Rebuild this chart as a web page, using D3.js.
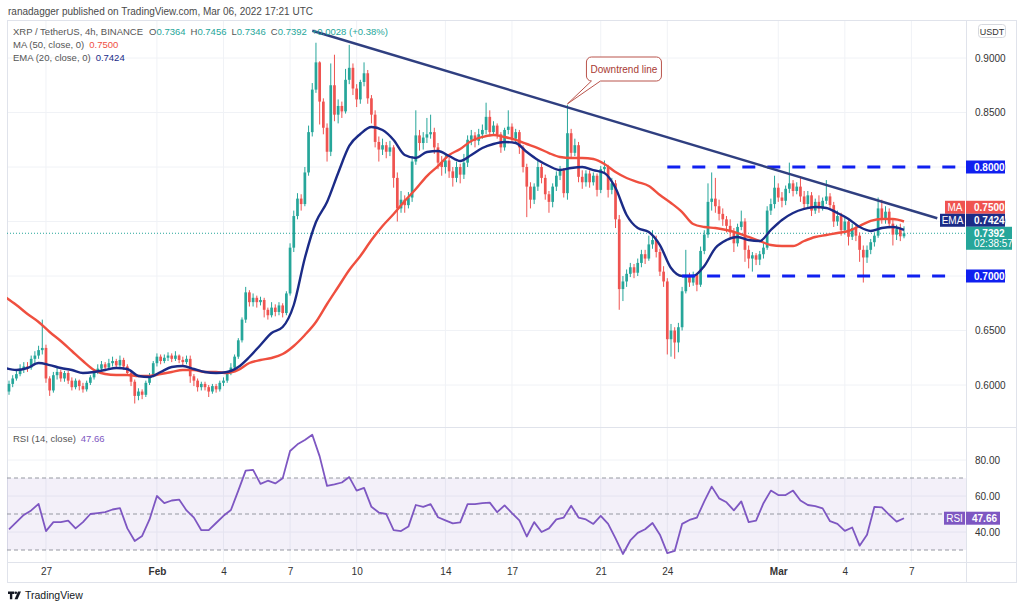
<!DOCTYPE html>
<html>
<head>
<meta charset="utf-8">
<script src="https://cdn.jsdelivr.net/npm/d3@7"></script>
<style>
  body { margin: 0; background: #fff; }
  svg { display: block; font-family: "Liberation Sans", Arial, sans-serif; }
</style>
</head>
<body>
<svg id="chart" width="1024" height="609"></svg>
<script>
// ── Data (XRP/USDT 4h, Binance) ───────────────────────────────────────────────
const H4 = 4 * 3600e3;
const firstCandle = Date.UTC(2022, 0, 25, 8); // Jan 25 08:00 UTC, one candle every 4h
const firstOpen = 0.594;

// one row per day (6 candles), first row Jan 25 08:00-20:00, last row Mar 6
const closes = [
  .601, .606, .610, .615,
  .617, .616, .624, .627, .632, .634,
  .606, .595, .609, .612, .606, .611,
  .604, .598, .604, .599, .596, .602,
  .607, .612, .615, .619, .616, .620,
  .622, .618, .623, .617, .611, .603,
  .590, .594, .591, .602, .609, .620,
  .626, .622, .625, .627, .624, .627,
  .623, .621, .624, .608, .604, .598,
  .601, .598, .594, .599, .596, .602,
  .604, .611, .616, .626, .641, .660,
  .685, .676, .680, .676, .678, .669,
  .664, .671, .667, .673, .666, .684,
  .726, .755, .771, .766, .795, .832,
  .871, .896, .860, .836, .814, .875,
  .848, .856, .851, .880, .891, .872,
  .862, .878, .886, .863, .848, .823,
  .816, .820, .814, .818, .790, .762,
  .770, .765, .772, .805, .829, .822,
  .827, .830, .832, .818, .804, .800,
  .806, .796, .790, .800, .793, .804,
  .825, .829, .824, .830, .834, .846,
  .832, .838, .830, .818, .834, .837,
  .826, .832, .818, .800, .782, .770,
  .782, .800, .790, .775, .768, .782,
  .792, .797, .776, .831, .813, .820,
  .791, .786, .794, .786, .792, .779,
  .798, .800, .779, .785, .752, .688,
  .695, .702, .708, .703, .712, .720,
  .716, .729, .733, .722, .704, .695,
  .642, .650, .639, .653, .686, .699,
  .694, .701, .692, .723, .738, .768,
  .771, .764, .757, .752, .746, .740,
  .730, .745, .750, .724, .716, .719,
  .715, .720, .726, .760, .766, .781,
  .772, .769, .780, .785, .778, .782,
  .773, .766, .774, .760, .768, .762,
  .769, .773, .765, .750, .755, .742,
  .750, .736, .744, .737, .724, .717,
  .724, .731, .737, .762, .752, .759,
  .748, .738, .743, .7364, .7392
];
const highs = [
  .604, .609, .613, .619,
  .621, .621, .627, .631, .636, .660,
  .637, .608, .612, .616, .614, .613,
  .613, .607, .606, .605, .602, .604,
  .609, .614, .619, .622, .621, .624,
  .626, .624, .627, .625, .619, .612,
  .605, .597, .596, .604, .611, .622,
  .629, .628, .628, .630, .629, .631,
  .628, .626, .627, .627, .610, .606,
  .603, .603, .600, .601, .601, .604,
  .607, .613, .620, .628, .643, .662,
  .690, .687, .684, .682, .681, .680,
  .671, .676, .674, .676, .675, .686,
  .730, .760, .776, .775, .800, .838,
  .877, .914, .897, .863, .840, .895,
  .903, .862, .860, .890, .912, .895,
  .876, .880, .896, .889, .866, .852,
  .828, .826, .823, .824, .820, .795,
  .778, .774, .777, .810, .852, .834,
  .832, .845, .848, .836, .822, .810,
  .812, .809, .800, .805, .803, .812,
  .829, .834, .832, .835, .839, .859,
  .852, .842, .840, .832, .836, .852,
  .840, .835, .834, .820, .803, .786,
  .785, .806, .803, .793, .778, .785,
  .796, .801, .799, .857, .835, .826,
  .823, .797, .797, .797, .795, .794,
  .801, .806, .802, .790, .788, .756,
  .700, .706, .712, .711, .716, .724,
  .724, .737, .742, .737, .725, .709,
  .698, .656, .653, .657, .690, .724,
  .703, .704, .703, .727, .742, .785,
  .795, .790, .770, .762, .755, .752,
  .744, .748, .760, .753, .728, .722,
  .721, .723, .730, .764, .771, .792,
  .785, .777, .783, .804, .788, .786,
  .790, .778, .778, .777, .771, .774,
  .772, .788, .776, .768, .760, .758,
  .754, .753, .748, .748, .740, .728,
  .728, .734, .740, .772, .770, .764,
  .762, .752, .747, .748, .7456
];
const lows = [
  .591, .598, .604, .608,
  .611, .612, .614, .620, .624, .628,
  .602, .590, .593, .605, .603, .603,
  .601, .595, .596, .595, .593, .594,
  .600, .605, .610, .613, .613, .614,
  .617, .615, .616, .614, .609, .599,
  .583, .586, .587, .589, .600, .607,
  .617, .619, .620, .622, .621, .622,
  .620, .617, .619, .602, .599, .594,
  .595, .595, .589, .592, .593, .594,
  .599, .602, .609, .614, .624, .639,
  .657, .672, .672, .671, .673, .662,
  .660, .662, .663, .664, .662, .664,
  .682, .722, .752, .760, .764, .792,
  .828, .868, .839, .830, .805, .810,
  .842, .840, .845, .849, .876, .866,
  .855, .858, .874, .858, .840, .818,
  .805, .811, .808, .810, .781, .750,
  .758, .758, .762, .768, .802, .815,
  .816, .822, .826, .812, .798, .792,
  .794, .790, .782, .786, .785, .789,
  .800, .820, .818, .820, .826, .830,
  .828, .829, .826, .813, .815, .830,
  .822, .822, .812, .795, .754, .762,
  .766, .778, .785, .770, .758, .763,
  .778, .788, .772, .770, .808, .810,
  .786, .780, .782, .781, .783, .773,
  .776, .794, .772, .775, .744, .669,
  .677, .690, .699, .698, .700, .708,
  .711, .714, .725, .717, .700, .690,
  .628, .626, .624, .630, .650, .684,
  .690, .691, .686, .690, .720, .735,
  .760, .758, .751, .746, .740, .734,
  .722, .727, .742, .713, .707, .704,
  .710, .710, .716, .724, .756, .762,
  .768, .763, .765, .776, .773, .775,
  .768, .761, .763, .755, .757, .758,
  .760, .766, .762, .745, .746, .737,
  .738, .728, .733, .732, .713, .694,
  .712, .720, .727, .735, .748, .748,
  .744, .728, .733, .732, .7346
];

// MA(50) and EMA(20), read every 12h starting Jan 25 04:00
const lineStart = Date.UTC(2022, 0, 25, 4);
const lineStep = 12 * 3600e3;
const maValues = [
  .6807, .6734, .6651, .6578, .6486, .6404, .6312, .6220, .6138, .6101,
  .6092, .6092, .6083, .6083, .6101, .6119, .6138, .6138, .6119, .6119,
  .6110, .6138, .6202, .6229, .6248, .6284, .6358, .6459, .6578, .6743,
  .6899, .7055, .7183, .7330, .7459, .7569, .7688, .7798, .7917, .8009,
  .8110, .8165, .8239, .8275, .8294, .8275, .8248, .8211, .8174, .8128,
  .8092, .8083, .8083, .8073, .8028, .7954, .7899, .7862, .7826, .7743,
  .7670, .7587, .7477, .7450, .7440, .7422, .7394, .7358, .7321, .7284,
  .7275, .7275, .7321, .7358, .7376, .7394, .7413, .7459, .7505, .7523,
  .7523, .7500
];
const emaValues = [
  .6156, .6138, .6156, .6202, .6183, .6156, .6138, .6110, .6119, .6138,
  .6156, .6147, .6083, .6073, .6119, .6165, .6174, .6147, .6119, .6110,
  .6119, .6165, .6257, .6367, .6477, .6532, .6734, .7165, .7495, .7679,
  .7945, .8193, .8303, .8367, .8339, .8248, .8110, .8083, .8138, .8147,
  .8101, .8055, .8110, .8174, .8211, .8229, .8220, .8138, .8064, .8009,
  .7972, .7991, .8000, .7972, .7945, .7807, .7560, .7440, .7404, .7284,
  .7073, .7000, .7000, .7092, .7257, .7330, .7358, .7330, .7321, .7422,
  .7514, .7578, .7615, .7633, .7624, .7578, .7523, .7450, .7413, .7440,
  .7450, .7424
];

// RSI(14), read every 8h starting at the first candle
const rsiStep = 8 * 3600e3;
const rsiValues = [
  41.5, 45.5, 49.5, 52, 55.6, 40.5, 45.5, 45.5, 46.3, 42,
  45.5, 50, 50.5, 51, 52.5, 53.3, 42, 35, 37.8, 47,
  60, 56, 57.5, 58, 52, 48, 41, 41, 45, 49,
  52.2, 63, 74.1, 74.5, 66.7, 68.5, 67, 69.8, 85, 88.7,
  91.1, 94, 82, 65.6, 66.5, 67.5, 70.5, 63, 64.5, 54,
  50.8, 50, 41, 40.5, 43, 55, 54, 55.5, 48.2, 46.5,
  44.8, 45.3, 55.5, 55.5, 56, 56.3, 51, 54.8, 50.5, 46.5,
  37.5, 45.5, 40, 42, 47, 48, 54.6, 48, 47, 44.5,
  49, 44.5, 36.5, 27.8, 35.3, 39.5, 41.5, 45, 38.5, 28.3,
  29.5, 44.5, 46.7, 48, 57, 65.2, 58.7, 56.5, 52, 57,
  45.5, 46.3, 56, 63, 60.5, 60.5, 63, 57.5, 55, 54.4,
  53.1, 46, 44.5, 40.6, 42.5, 32.4, 38.5, 54, 53.7, 49.5,
  45.8, 47.66
];

const priceTicks = [0.60, 0.65, 0.70, 0.75, 0.80, 0.85, 0.90];
const rsiTicks = [40, 60, 80];
const rsiLevels = [70, 50, 30];
const dayTickDates = ["2022-01-27", "2022-02-01", "2022-02-04", "2022-02-07", "2022-02-10",
  "2022-02-14", "2022-02-17", "2022-02-21", "2022-02-24", "2022-03-01", "2022-03-04", "2022-03-07"];
const dayTickLabels = ["27", "Feb", "4", "7", "10", "14", "17", "21", "24", "Mar", "4", "7"];

// horizontal levels drawn on the chart: [price, from, to]
const levels = [
  [0.80, "2022-02-24T00:00Z", "2022-03-09T00:00Z"],
  [0.70, "2022-02-24T16:00Z", "2022-03-09T00:00Z"],
];
const trendline = [["2022-02-08T00:00Z", 0.925], ["2022-03-08T04:00Z", 0.753]];
const calloutCandle = 151; // Feb 19 12:00 wick touching the trendline

// ── Colors ───────────────────────────────────────────────────────────────────
const UP = "#26a69a", DOWN = "#ef5350";
const MA_COLOR = "#ef4f3f", EMA_COLOR = "#1b2b87", TREND_COLOR = "#2f3f80";
const LEVEL_COLOR = "#1020f0", RSI_COLOR = "#7e57c2";
const GRID = "#f0f2f6", BORDER = "#e0e3eb", TEXT = "#333";

// ── Build candles ────────────────────────────────────────────────────────────
const candles = closes.map((c, i) => {
  const o = i === 0 ? firstOpen : closes[i - 1];
  return {
    date: new Date(firstCandle + i * H4),
    open: o, close: c,
    high: Math.max(highs[i], o, c),
    low: Math.min(lows[i], o, c),
  };
});
const maSeries = maValues.map((v, i) => ({ date: new Date(lineStart + i * lineStep), v }));
const emaSeries = emaValues.map((v, i) => ({ date: new Date(lineStart + i * lineStep), v }));
const rsiSeries = rsiValues.map((v, i) => ({ date: new Date(firstCandle + i * rsiStep), v }));

// ── Layout ───────────────────────────────────────────────────────────────────
const L = 7, R = 966, AXR = 1016;
const TOP = 21, SPLIT = 427, RSI_B = 562, BOTTOM = 583;

const x = d3.scaleUtc()
  .domain([candles[0].date, candles[candles.length - 1].date])
  .range([9, 904]);
const y = d3.scaleLinear().domain([0.6, 0.9]).range([385, 58]);
const ry = d3.scaleLinear().domain([40, 80]).range([532, 460]);

const svg = d3.select("#chart");
const defs = svg.append("defs");
defs.append("clipPath").attr("id", "clip-price")
  .append("rect").attr("x", L).attr("y", TOP).attr("width", R - L).attr("height", SPLIT - TOP);
defs.append("clipPath").attr("id", "clip-rsi")
  .append("rect").attr("x", L).attr("y", SPLIT).attr("width", R - L).attr("height", RSI_B - SPLIT);

// header
svg.append("text").attr("x", 8).attr("y", 14.5)
  .attr("font-size", 10).attr("fill", "#4a4a4a")
  .text("ranadagger published on TradingView.com, Mar 06, 2022 17:21 UTC");

// ── Grid ─────────────────────────────────────────────────────────────────────
const grid = svg.append("g");
grid.selectAll(".vg").data(dayTickDates).join("line")
  .attr("x1", (d) => x(new Date(d))).attr("x2", (d) => x(new Date(d)))
  .attr("y1", TOP).attr("y2", RSI_B)
  .attr("stroke", GRID);
grid.selectAll(".hg").data(priceTicks).join("line")
  .attr("x1", L).attr("x2", R).attr("y1", (d) => y(d)).attr("y2", (d) => y(d))
  .attr("stroke", GRID);
grid.selectAll(".rg").data(rsiTicks).join("line")
  .attr("x1", L).attr("x2", R).attr("y1", (d) => ry(d)).attr("y2", (d) => ry(d))
  .attr("stroke", GRID);

// frame
svg.append("rect").attr("x", L + 0.5).attr("y", TOP - 0.5)
  .attr("width", AXR - L).attr("height", BOTTOM - TOP)
  .attr("fill", "none").attr("stroke", BORDER);
svg.append("line").attr("x1", R + 0.5).attr("x2", R + 0.5).attr("y1", TOP).attr("y2", BOTTOM)
  .attr("stroke", BORDER);
svg.append("line").attr("x1", L).attr("x2", AXR).attr("y1", SPLIT + 0.5).attr("y2", SPLIT + 0.5)
  .attr("stroke", BORDER);
svg.append("line").attr("x1", L).attr("x2", AXR).attr("y1", RSI_B + 0.5).attr("y2", RSI_B + 0.5)
  .attr("stroke", BORDER);

// ── Price pane ───────────────────────────────────────────────────────────────
const pricePane = svg.append("g").attr("clip-path", "url(#clip-price)");
const last = candles[candles.length - 1];

pricePane.append("line")
  .attr("x1", L).attr("x2", R).attr("y1", y(last.close)).attr("y2", y(last.close))
  .attr("stroke", UP).attr("stroke-dasharray", "1,2").attr("stroke-width", 1);

const bodyW = 2.7;
const candleG = pricePane.append("g");
candleG.selectAll("line").data(candles).join("line")
  .attr("x1", (d) => x(d.date)).attr("x2", (d) => x(d.date))
  .attr("y1", (d) => y(d.high)).attr("y2", (d) => y(d.low))
  .attr("stroke", (d) => (d.close >= d.open ? UP : DOWN))
  .attr("stroke-width", 1);
candleG.selectAll("rect").data(candles).join("rect")
  .attr("x", (d) => x(d.date) - bodyW / 2)
  .attr("width", bodyW)
  .attr("y", (d) => y(Math.max(d.open, d.close)))
  .attr("height", (d) => Math.max(1, Math.abs(y(d.open) - y(d.close))))
  .attr("fill", (d) => (d.close >= d.open ? UP : DOWN));

const valueLine = d3.line().x((d) => x(d.date)).y((d) => y(d.v)).curve(d3.curveMonotoneX);
pricePane.append("path").datum(maSeries).attr("d", valueLine)
  .attr("fill", "none").attr("stroke", MA_COLOR).attr("stroke-width", 2.4);
pricePane.append("path").datum(emaSeries).attr("d", valueLine)
  .attr("fill", "none").attr("stroke", EMA_COLOR).attr("stroke-width", 2.4);

pricePane.selectAll(".level").data(levels).join("line")
  .attr("x1", (d) => x(new Date(d[1]))).attr("x2", (d) => x(new Date(d[2])))
  .attr("y1", (d) => y(d[0])).attr("y2", (d) => y(d[0]))
  .attr("stroke", LEVEL_COLOR).attr("stroke-width", 3)
  .attr("stroke-dasharray", "13,12");

pricePane.append("line")
  .attr("x1", x(new Date(trendline[0][0]))).attr("y1", y(trendline[0][1]))
  .attr("x2", x(new Date(trendline[1][0]))).attr("y2", y(trendline[1][1]))
  .attr("stroke", TREND_COLOR).attr("stroke-width", 2.4);

// callout
{
  const c = candles[calloutCandle];
  const tx = x(c.date), ty = y(c.high) - 1;
  const bx = tx + 19, by = 57, bw = 75, bh = 24, r = 5;
  const p = d3.path();
  p.moveTo(bx + r, by);
  p.lineTo(bx + bw - r, by);
  p.arcTo(bx + bw, by, bx + bw, by + r, r);
  p.lineTo(bx + bw, by + bh - r);
  p.arcTo(bx + bw, by + bh, bx + bw - r, by + bh, r);
  p.lineTo(bx + 14, by + bh);
  p.lineTo(tx, ty);
  p.lineTo(bx + 5, by + bh);
  p.arcTo(bx, by + bh, bx, by + bh - r, r);
  p.lineTo(bx, by + r);
  p.arcTo(bx, by, bx + r, by, r);
  p.closePath();
  pricePane.append("path").attr("d", p.toString())
    .attr("fill", "#fff").attr("stroke", "#b9544c").attr("stroke-width", 1);
  pricePane.append("text").attr("x", bx + bw / 2).attr("y", by + 16)
    .attr("text-anchor", "middle").attr("font-size", 10).attr("fill", "#a83a33")
    .text("Downtrend line");
}

// ── RSI pane ─────────────────────────────────────────────────────────────────
const rsiPane = svg.append("g").attr("clip-path", "url(#clip-rsi)");
rsiPane.append("rect")
  .attr("x", L).attr("width", R - L)
  .attr("y", ry(70)).attr("height", ry(30) - ry(70))
  .attr("fill", RSI_COLOR).attr("fill-opacity", 0.09);
rsiPane.selectAll(".lvl").data(rsiLevels).join("line")
  .attr("x1", L).attr("x2", R).attr("y1", (d) => ry(d)).attr("y2", (d) => ry(d))
  .attr("stroke", "#9598a1").attr("stroke-dasharray", "4,3");
rsiPane.append("path").datum(rsiSeries)
  .attr("d", d3.line().x((d) => x(d.date)).y((d) => ry(d.v)))
  .attr("fill", "none").attr("stroke", RSI_COLOR).attr("stroke-width", 1.8)
  .attr("stroke-linejoin", "round");

// ── Axes ─────────────────────────────────────────────────────────────────────
const priceAxis = svg.append("g").attr("transform", `translate(${R},0)`)
  .call(d3.axisRight(y).tickValues(priceTicks).tickFormat(d3.format(".4f")).tickSize(0).tickPadding(9));
const rsiAxis = svg.append("g").attr("transform", `translate(${R},0)`)
  .call(d3.axisRight(ry).tickValues(rsiTicks).tickFormat(d3.format(".2f")).tickSize(0).tickPadding(9));
const timeAxis = svg.append("g").attr("transform", `translate(0,${RSI_B})`)
  .call(d3.axisBottom(x).tickValues(dayTickDates.map((d) => new Date(d)))
    .tickFormat((d, i) => dayTickLabels[i]).tickSize(0).tickPadding(6));
[priceAxis, rsiAxis, timeAxis].forEach((g) => {
  g.select(".domain").remove();
  g.selectAll("text").attr("font-size", 10).attr("fill", TEXT)
    .attr("font-family", '"Liberation Sans", Arial, sans-serif');
});
timeAxis.selectAll("text")
  .attr("font-weight", (d, i) => (isNaN(+dayTickLabels[i]) ? "bold" : null));

// USDT badge
svg.append("rect").attr("x", 978.5).attr("y", 24.5).attr("width", 27).attr("height", 13).attr("rx", 3)
  .attr("fill", "#fff").attr("stroke", "#d6d8de");
svg.append("text").attr("x", 992).attr("y", 34.5).attr("text-anchor", "middle")
  .attr("font-size", 9).attr("fill", TEXT).text("USDT");

// ── Axis tags ────────────────────────────────────────────────────────────────
const fmt4 = d3.format(".4f");
function tag(yc, w, fill, label, text) {
  const g = svg.append("g");
  g.append("rect").attr("x", R).attr("y", yc - 6.5).attr("width", w).attr("height", 13).attr("fill", fill);
  g.append("text").attr("x", R + 8).attr("y", yc + 3.6).attr("font-size", 10)
    .attr("font-weight", "bold").attr("fill", "#fff").text(text);
  if (label) {
    const lw = label.length > 2 ? 25 : 20;
    g.append("rect").attr("x", R - lw - 1).attr("y", yc - 6.5).attr("width", lw).attr("height", 13).attr("fill", fill);
    g.append("text").attr("x", R - 1 - lw / 2).attr("y", yc + 3.6).attr("text-anchor", "middle")
      .attr("font-size", 10).attr("fill", "#fff").text(label);
  }
}
levels.forEach((d) => tag(y(d[0]), 39, LEVEL_COLOR, null, fmt4(d[0])));

const maLast = maValues[maValues.length - 1];
const emaLast = emaValues[emaValues.length - 1];
const priceTop = y(last.close) - 6.5;
const emaC = Math.min(y(emaLast), priceTop - 6.5);
const maC = Math.min(y(maLast), emaC - 13);
tag(maC, 39, DOWN, "MA", fmt4(maLast));
tag(emaC, 39, EMA_COLOR, "EMA", fmt4(emaLast));

svg.append("rect").attr("x", R).attr("y", priceTop).attr("width", 46).attr("height", 23).attr("fill", UP);
svg.append("text").attr("x", R + 8).attr("y", priceTop + 10).attr("font-size", 10)
  .attr("font-weight", "bold").attr("fill", "#fff").text(fmt4(last.close));
svg.append("text").attr("x", R + 8).attr("y", priceTop + 20.5).attr("font-size", 10)
  .attr("fill", "#fff").text("02:38:57");

const rsiLast = rsiValues[rsiValues.length - 1];
svg.append("rect").attr("x", R).attr("y", ry(rsiLast) - 6.5).attr("width", 34).attr("height", 13).attr("fill", RSI_COLOR);
svg.append("text").attr("x", R + 6).attr("y", ry(rsiLast) + 3.6).attr("font-size", 10)
  .attr("font-weight", "bold").attr("fill", "#fff").text(d3.format(".2f")(rsiLast));
svg.append("rect").attr("x", R - 22).attr("y", ry(rsiLast) - 6.5).attr("width", 21).attr("height", 13).attr("fill", RSI_COLOR);
svg.append("text").attr("x", R - 11.5).attr("y", ry(rsiLast) + 3.6).attr("text-anchor", "middle")
  .attr("font-size", 10).attr("fill", "#fff").text("RSI");

// ── Legends (flowing text, small gaps between groups) ────────────────────────
const legend = svg.append("g").attr("font-size", 9.5);
function legendLine(yy, parts) {
  const t = legend.append("text").attr("x", 13).attr("y", yy);
  parts.forEach(([gap, str, color]) => t.append("tspan").attr("dx", gap).attr("fill", color).text(str));
}
const GRAY = "#555";
const change = last.close - last.open;
legendLine(35, [
  [0, "XRP / TetherUS, 4h, BINANCE", GRAY],
  [6, "O", GRAY], [0, fmt4(last.open), UP],
  [5, "H", GRAY], [0, fmt4(last.high), UP],
  [5, "L", GRAY], [0, fmt4(last.low), UP],
  [5, "C", GRAY], [0, fmt4(last.close), UP],
  [5, `${change >= 0 ? "+" : ""}${fmt4(change)} (${change >= 0 ? "+" : ""}${(change / last.open * 100).toFixed(2)}%)`, UP],
]);
legendLine(48, [[0, "MA (50, close, 0)", GRAY], [5, fmt4(maLast), MA_COLOR]]);
legendLine(61, [[0, "EMA (20, close, 0)", GRAY], [5, fmt4(emaLast), EMA_COLOR]]);
legendLine(441.5, [[0, "RSI (14, close)", GRAY], [5, d3.format(".2f")(rsiLast), RSI_COLOR]]);

// ── TradingView footer ───────────────────────────────────────────────────────
const logo = svg.append("g").attr("fill", "#131722");
logo.append("path").attr("d", "M8,591.5h6.2v2.6h-1.9v5.2h-2.4v-5.2H8z");
logo.append("circle").attr("cx", 15.8).attr("cy", 592.8).attr("r", 1.3);
logo.append("path").attr("d", "M14.6,599.3L18,591.5h3L17.6,599.3z");
svg.append("text").attr("x", 25).attr("y", 599).attr("font-size", 10.5).attr("fill", "#131722")
  .text("TradingView");
</script>
</body>
</html>
